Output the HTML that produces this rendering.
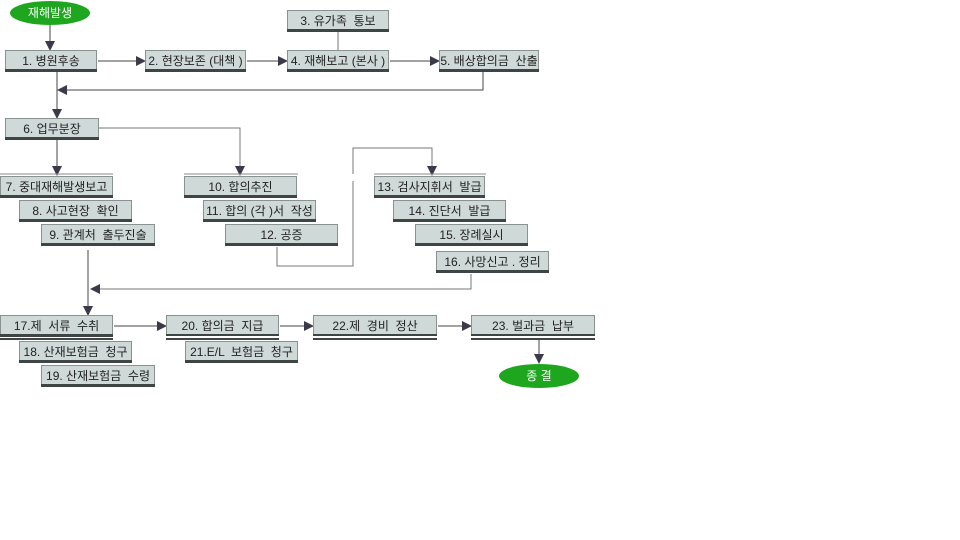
<!DOCTYPE html>
<html><head><meta charset="utf-8">
<style>
html,body{margin:0;padding:0;background:#fff;}
svg{display:block;}
text{font-family:"Liberation Sans","Noto Sans CJK KR","NanumGothic",sans-serif;font-size:12px;fill:#222;text-anchor:middle;white-space:pre;}
.b{fill:#cfd9d7;stroke:#8a9290;stroke-width:1;}
.s{fill:#3f4543;}
</style></head><body>
<svg width="960" height="540" viewBox="0 0 960 540" xmlns="http://www.w3.org/2000/svg">
<defs>
<marker id="a" markerWidth="10" markerHeight="10" refX="9" refY="5" orient="auto" markerUnits="userSpaceOnUse">
<path d="M0,0 L10,5 L0,10 z" fill="#3a3a4a"/></marker>
</defs>
<g stroke="#444" stroke-width="1" fill="none">
<line x1="50" y1="25" x2="50" y2="50" marker-end="url(#a)"/>
<line x1="98" y1="61" x2="145" y2="61" marker-end="url(#a)"/>
<line x1="247" y1="61" x2="287" y2="61" marker-end="url(#a)"/>
<line x1="390" y1="61" x2="439" y2="61" marker-end="url(#a)"/>
<line x1="338" y1="32" x2="338" y2="50" stroke="#777"/>
<polyline points="483,72 483,90 58,90" marker-end="url(#a)"/>
<line x1="57" y1="72" x2="57" y2="118" marker-end="url(#a)"/>
<polyline points="98,128 240,128 240,175" stroke="#777" marker-end="url(#a)"/>
<line x1="57" y1="140" x2="57" y2="175" marker-end="url(#a)"/>
<polyline points="277,247 277,266 353,266 353,181" stroke="#777"/>
<polyline points="353,174 353,148 432,148 432,175" stroke="#777" marker-end="url(#a)"/>
<polyline points="471,274 471,289 91,289" stroke="#777" marker-end="url(#a)"/>
<line x1="88" y1="250" x2="88" y2="315" marker-end="url(#a)"/>
<line x1="114" y1="326" x2="166" y2="326" marker-end="url(#a)"/>
<line x1="280" y1="326" x2="313" y2="326" marker-end="url(#a)"/>
<line x1="438" y1="326" x2="471" y2="326" marker-end="url(#a)"/>
<line x1="539" y1="340" x2="539" y2="363" marker-end="url(#a)"/>
<line x1="184" y1="174" x2="298" y2="174" stroke="#888"/>
<line x1="374" y1="174" x2="486" y2="174" stroke="#888"/>
<line x1="0" y1="174" x2="113" y2="174" stroke="#888"/>
</g>
<ellipse cx="50" cy="13" rx="40" ry="12" fill="#1ea71e"/>
<text x="50" y="17" style="fill:#fff">재해발생</text>
<ellipse cx="539" cy="376" rx="40" ry="12" fill="#1ea71e"/>
<text x="539" y="380" style="fill:#fff">종 결</text>

<!-- 1 --><rect class="b" x="5.5" y="50.5" width="91" height="19"/><rect class="s" x="5" y="69" width="92" height="3"/><text x="51" y="65">1. 병원후송</text>
<!-- 2 --><rect class="b" x="145.5" y="50.5" width="100" height="19"/><rect class="s" x="145" y="69" width="101" height="3"/><text x="195.5" y="65">2. 현장보존 (대책 )</text>
<!-- 3 --><rect class="b" x="287.5" y="10.5" width="101" height="19"/><rect class="s" x="287" y="29" width="102" height="3"/><text x="338" y="25">3. 유가족  통보</text>
<!-- 4 --><rect class="b" x="287.5" y="50.5" width="101" height="19"/><rect class="s" x="287" y="69" width="102" height="3"/><text x="338" y="65">4. 재해보고 (본사 )</text>
<!-- 5 --><rect class="b" x="439.5" y="50.5" width="99" height="19"/><rect class="s" x="439" y="69" width="100" height="3"/><text x="489" y="65">5. 배상합의금  산출</text>
<!-- 6 --><rect class="b" x="5.5" y="118.5" width="93" height="19"/><rect class="s" x="5" y="137" width="94" height="3"/><text x="52" y="133">6. 업무분장</text>
<!-- 7 --><rect class="b" x="0.5" y="176.5" width="112" height="19"/><rect class="s" x="0" y="195" width="113" height="3"/><text x="56.5" y="191">7. 중대재해발생보고</text>
<!-- 10 --><rect class="b" x="184.5" y="176.5" width="112" height="19"/><rect class="s" x="184" y="195" width="113" height="3"/><text x="240.5" y="191">10. 합의추진</text>
<!-- 8 --><rect class="b" x="19.5" y="200.5" width="112" height="19"/><rect class="s" x="19" y="219" width="113" height="3"/><text x="75.5" y="215">8. 사고현장  확인</text>
<!-- 11 --><rect class="b" x="203.5" y="200.5" width="112" height="19"/><rect class="s" x="203" y="219" width="113" height="3"/><text x="259.5" y="215">11. 합의 (각 )서  작성</text>
<!-- 9 --><rect class="b" x="41.5" y="224.5" width="113" height="19"/><rect class="s" x="41" y="243" width="114" height="3"/><text x="98" y="239">9. 관계처  출두진술</text>
<!-- 12 --><rect class="b" x="225.5" y="224.5" width="112" height="19"/><rect class="s" x="225" y="243" width="113" height="3"/><text x="281.5" y="239">12. 공증</text>
<!-- 13 --><rect class="b" x="374.5" y="176.5" width="110" height="19"/><rect class="s" x="374" y="195" width="111" height="3"/><text x="429.5" y="191">13. 검사지휘서  발급</text>
<!-- 14 --><rect class="b" x="393.5" y="200.5" width="112" height="19"/><rect class="s" x="393" y="219" width="113" height="3"/><text x="449.5" y="215">14. 진단서  발급</text>
<!-- 15 --><rect class="b" x="415.5" y="224.5" width="112" height="19"/><rect class="s" x="415" y="243" width="113" height="3"/><text x="471.5" y="239">15. 장례실시</text>
<!-- 16 --><rect class="b" x="436.5" y="251.5" width="112" height="19"/><rect class="s" x="436" y="270" width="113" height="3"/><text x="492.5" y="266">16. 사망신고 . 정리</text>
<!-- 17 --><rect class="b" x="0.5" y="315.5" width="112" height="19"/><rect class="s" x="0" y="334" width="113" height="3"/><rect class="s" x="0" y="338" width="113" height="2"/><text x="56.5" y="330">17.제  서류  수취</text>
<!-- 18 --><rect class="b" x="19.5" y="341.5" width="112" height="19"/><rect class="s" x="19" y="360" width="113" height="3"/><text x="75.5" y="356">18. 산재보험금  청구</text>
<!-- 19 --><rect class="b" x="41.5" y="365.5" width="113" height="19"/><rect class="s" x="41" y="384" width="114" height="3"/><text x="98" y="380">19. 산재보험금  수령</text>
<!-- 20 --><rect class="b" x="166.5" y="315.5" width="112" height="19"/><rect class="s" x="166" y="334" width="113" height="2"/><rect class="s" x="166" y="338" width="113" height="2"/><text x="222.5" y="330">20. 합의금  지급</text>
<!-- 21 --><rect class="b" x="185.5" y="341.5" width="112" height="19"/><rect class="s" x="185" y="360" width="113" height="3"/><text x="241.5" y="356">21.E/L  보험금  청구</text>
<!-- 22 --><rect class="b" x="313.5" y="315.5" width="123" height="19"/><rect class="s" x="313" y="334" width="124" height="2"/><rect class="s" x="313" y="338" width="124" height="2"/><text x="375" y="330">22.제  경비  정산</text>
<!-- 23 --><rect class="b" x="471.5" y="315.5" width="123" height="19"/><rect class="s" x="471" y="334" width="124" height="2"/><rect class="s" x="471" y="338" width="124" height="2"/><text x="533" y="330">23. 벌과금  납부</text>
</svg>
</body></html>
